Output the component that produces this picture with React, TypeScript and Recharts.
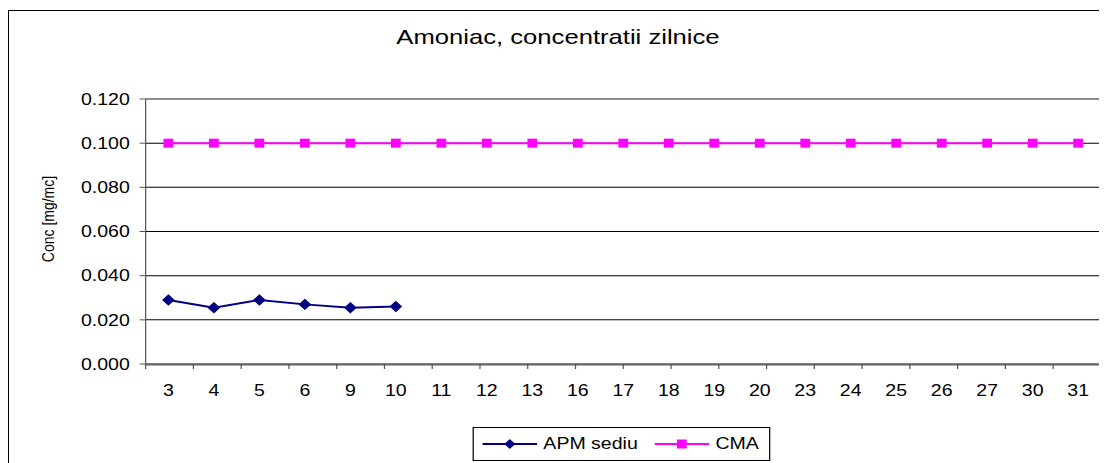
import { LineChart, Line, XAxis, YAxis, CartesianGrid, ReferenceLine } from "recharts";

// zile masurate (categorii pe axa X)
const days = ["3", "4", "5", "6", "9", "10", "11", "12", "13", "16", "17", "18", "19", "20", "23", "24", "25", "26", "27", "30", "31"];

// APM sediu, mg/mc (doar primele zile au valori)
const apmSediu = [0.029, 0.0255, 0.029, 0.027, 0.0255, 0.026];

// CMA, mg/mc
const cma = [0.1, 0.1, 0.1, 0.1, 0.1, 0.1, 0.1, 0.1, 0.1, 0.1, 0.1, 0.1, 0.1, 0.1, 0.1, 0.1, 0.1, 0.1, 0.1, 0.1, 0.1];

const yTicks = [0, 0.02, 0.04, 0.06, 0.08, 0.1, 0.12];

const data = days.map((d, i) => ({
  day: d,
  apm: i < apmSediu.length ? apmSediu[i] : null,
  cma: cma[i],
}));

// tick marks between the categories, excel style
const boundaryTicks = Array.from({ length: days.length + 1 }, (_, i) => i);

const W = 900;
const H = 452;
const SX = 1.22;
const FONT = '"Liberation Sans", Arial, sans-serif';

const NAVY = "#000080";
const MAGENTA = "#FF00FF";

const Diamond = (props: any) => {
  const { cx, cy, index } = props;
  if (cx == null || cy == null) return <g key={`d-${index}`} />;
  return (
    <path
      key={`d-${index}`}
      d={`M${cx},${cy - 5} L${cx + 4.5},${cy} L${cx},${cy + 5} L${cx - 4.5},${cy} Z`}
      fill={NAVY}
      stroke={NAVY}
    />
  );
};

const Square = (props: any) => {
  const { cx, cy, index } = props;
  if (cx == null || cy == null) return <g key={`s-${index}`} />;
  return <rect key={`s-${index}`} x={cx - 4} y={cy - 4.5} width={8} height={9} fill={MAGENTA} />;
};

export default function App() {
  return (
    <div
      style={{
        position: "relative",
        top: 2,
        width: 1100,
        height: 460,
        border: "1px solid #000",
        overflow: "hidden",
        fontFamily: FONT,
        background: "#fff",
      }}
    >
      <div
        style={{
          position: "absolute",
          left: 0,
          top: 0,
          width: W,
          height: H,
          transform: `scaleX(${SX})`,
          transformOrigin: "0 0",
        }}
      >
        <div
          style={{
            position: "absolute",
            left: 0,
            top: 14,
            width: W,
            lineHeight: "24px",
            fontSize: 21,
            textAlign: "center",
            color: "#000",
          }}
        >
          Amoniac, concentratii zilnice
        </div>
        <div
          style={{
            position: "absolute",
            left: 32,
            top: 208,
            fontSize: 14,
            whiteSpace: "nowrap",
            transform: "translate(-50%, -50%) rotate(-90deg)",
            color: "#000",
          }}
        >
          Conc [mg/mc]
        </div>

        <LineChart width={W} height={H} data={data} margin={{ top: 88, right: 5, bottom: 68, left: 0 }}>
          <CartesianGrid xAxisId="cat" horizontal vertical={false} stroke="#000" strokeWidth={1} />
          <XAxis
            xAxisId="cat"
            dataKey="day"
            scale="band"
            height={30}
            interval={0}
            tickLine={false}
            tickSize={0}
            tickMargin={20}
            axisLine={{ stroke: "#555" }}
            tick={{ fill: "#000", fontSize: 16, fontFamily: FONT }}
          />
          <XAxis
            xAxisId="b"
            type="number"
            domain={[0, days.length]}
            ticks={boundaryTicks}
            allowDataOverflow
            tickFormatter={() => ""}
            height={1}
            axisLine={false}
            tickSize={5}
            tickLine={{ stroke: "#555" }}
          />
          <YAxis
            domain={[0, 0.12]}
            ticks={yTicks}
            width={112}
            tickSize={5}
            tickMargin={8}
            tickLine={{ stroke: "#555" }}
            axisLine={{ stroke: "#555" }}
            tick={{ fill: "#000", fontSize: 16, fontFamily: FONT }}
            tickFormatter={(v: number) => v.toFixed(3)}
          />
          <ReferenceLine xAxisId="cat" y={0.12} stroke="#999" />
          <ReferenceLine xAxisId="b" x={days.length} stroke="#999" />
          <Line
            xAxisId="cat"
            dataKey="apm"
            stroke={NAVY}
            strokeWidth={2}
            dot={Diamond}
            activeDot={false}
            isAnimationActive={false}
          />
          <Line
            xAxisId="cat"
            dataKey="cma"
            stroke={MAGENTA}
            strokeWidth={2}
            dot={Square}
            activeDot={false}
            isAnimationActive={false}
          />
        </LineChart>

        <div
          style={{
            position: "absolute",
            left: 380,
            top: 416,
            width: 244,
            height: 34,
            border: "1px solid #000",
            boxSizing: "border-box",
            fontSize: 16,
            color: "#000",
          }}
        >
          <svg width={45} height={12} style={{ position: "absolute", left: 7, top: 10 }}>
            <line x1={0} y1={6} x2={45} y2={6} stroke={NAVY} strokeWidth={2} />
            <path d="M22.5,1 L27,6 L22.5,11 L18,6 Z" fill={NAVY} />
          </svg>
          <span style={{ position: "absolute", left: 57, top: 6, lineHeight: "20px", whiteSpace: "nowrap" }}>
            APM sediu
          </span>
          <svg width={45} height={12} style={{ position: "absolute", left: 148, top: 10 }}>
            <line x1={0} y1={6} x2={45} y2={6} stroke={MAGENTA} strokeWidth={2} />
            <rect x={18.5} y={1.5} width={8} height={9} fill={MAGENTA} />
          </svg>
          <span style={{ position: "absolute", left: 198, top: 6, lineHeight: "20px", whiteSpace: "nowrap" }}>
            CMA
          </span>
        </div>
      </div>
    </div>
  );
}
